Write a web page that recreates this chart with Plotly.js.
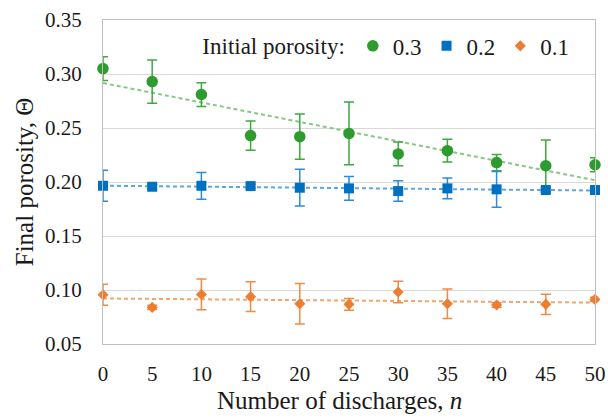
<!DOCTYPE html>
<html>
<head>
<meta charset="utf-8">
<script src="https://cdn.plot.ly/plotly-3.0.1.min.js"></script>
<style>html,body{margin:0;padding:0;background:#fff;}#chart{width:608px;height:419px;}</style>
</head>
<body>
<div id="chart"></div>
<script>
var discharges = [0, 5, 10, 15, 20, 25, 30, 35, 40, 45, 50];
var seriesNames = ["0.3", "0.2", "0.1"];
var porosity03 = [0.305, 0.293, 0.281, 0.243, 0.242, 0.245, 0.226, 0.229, 0.218, 0.215, 0.216];
var error03 = [0.011, 0.020, 0.011, 0.0135, 0.021, 0.029, 0.011, 0.0105, 0.0075, 0.024, 0.0065];
var porosity02 = [0.1965, 0.1956, 0.1965, 0.1962, 0.1947, 0.1941, 0.1916, 0.1941, 0.1932, 0.1926, 0.1926];
var error02 = [0.0143, 0.002, 0.0124, 0.002, 0.017, 0.011, 0.0095, 0.0095, 0.0165, 0.002, 0.004];
var porosity01 = [0.0956, 0.0839, 0.0959, 0.0938, 0.0873, 0.0867, 0.0981, 0.0873, 0.0861, 0.0867, 0.0913];
var error01 = [0.0098, 0.002, 0.0143, 0.0138, 0.0187, 0.0055, 0.0099, 0.0137, 0.002, 0.0094, 0.002];
var yTicks = [0.05, 0.10, 0.15, 0.20, 0.25, 0.30, 0.35];

function linFit(x, y) {
  var n = x.length, mx = 0, my = 0;
  for (var i = 0; i < n; i++) { mx += x[i]; my += y[i]; }
  mx /= n; my /= n;
  var num = 0, den = 0;
  for (var j = 0; j < n; j++) { num += (x[j] - mx) * (y[j] - my); den += (x[j] - mx) * (x[j] - mx); }
  var b = num / den, a = my - b * mx;
  var xs = [x[0], x[n - 1]];
  return { x: xs, y: xs.map(function (v) { return a + b * v; }) };
}

var styles = [
  { data: porosity03, err: error03, color: "#2E9B2E", errColor: "#3FA83F", trend: "#86C886", symbol: "circle", size: 11.5 },
  { data: porosity02, err: error02, color: "#0070C0", errColor: "#2F8BD6", trend: "#5BA6E3", symbol: "square", size: 10 },
  { data: porosity01, err: error01, color: "#ED7D31", errColor: "#F08A45", trend: "#F3A56E", symbol: "diamond", size: 8.5 }
];

var traces = [];
styles.forEach(function (s, k) {
  var f = linFit(discharges, s.data);
  traces.push({
    x: f.x, y: f.y, type: "scatter", mode: "lines", showlegend: false, hoverinfo: "skip",
    line: { color: s.trend, width: 2, dash: "4px,3px" }
  });
});
styles.forEach(function (s, k) {
  traces.push({
    x: discharges, y: s.data, type: "scatter", mode: "markers", name: seriesNames[k],
    cliponaxis: false,
    marker: { color: s.color, symbol: s.symbol, size: s.size },
    error_y: { type: "data", array: s.err, visible: true, color: s.errColor, thickness: 1.5, width: 5 }
  });
});

var font = "Liberation Serif";
var txt = "#1a1a1a";
var layout = {
  width: 608, height: 419,
  margin: { l: 103, r: 13, t: 20, b: 75 },
  paper_bgcolor: "#fff", plot_bgcolor: "#fff",
  font: { family: font, size: 21, color: txt },
  showlegend: true,
  legend: {
    orientation: "h", x: 0.958, xanchor: "right", y: 0.92, yanchor: "middle",
    bgcolor: "rgba(255,255,255,0)", font: { family: font, size: 23, color: txt },
    title: { text: "Initial porosity:", side: "left", font: { family: font, size: 23, color: txt } },
    itemsizing: "trace", tracegroupgap: 0
  },
  xaxis: {
    range: [0, 50], tickmode: "array", tickvals: discharges, ticktext: discharges.map(String),
    showgrid: false, zeroline: false, showline: true, linecolor: "#BFBFBF", linewidth: 1, mirror: true,
    ticks: "", ticklabelstandoff: 11,
    tickfont: { family: font, size: 21, color: txt },
    title: { text: "Number of discharges, <i>n</i>&nbsp;&nbsp;&nbsp;", font: { family: font, size: 25, color: txt }, standoff: 6 }
  },
  yaxis: {
    range: [0.05, 0.35], tickmode: "array", tickvals: yTicks, ticktext: yTicks.map(function (v) { return v.toFixed(2); }),
    showgrid: true, gridcolor: "#D9D9D9", gridwidth: 1, zeroline: false,
    showline: true, linecolor: "#BFBFBF", linewidth: 1, mirror: true,
    ticks: "", ticklabelstandoff: 16,
    tickfont: { family: font, size: 21, color: txt },
    title: { text: "Final porosity, Θ", font: { family: font, size: 25, color: txt }, standoff: 4 }
  }
};

Plotly.newPlot("chart", traces, layout, { displayModeBar: false, staticPlot: true });
</script>
</body>
</html>
